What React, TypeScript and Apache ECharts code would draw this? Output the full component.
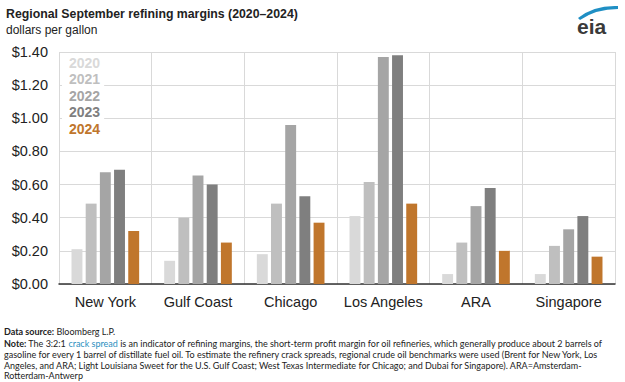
import React, { useEffect, useRef } from "react";
import * as echarts from "echarts";

const categories = ["New York", "Gulf Coast", "Chicago", "Los Angeles", "ARA", "Singapore"];
const years = ["2020", "2021", "2022", "2023", "2024"];
const v2020 = [0.21, 0.14, 0.18, 0.41, 0.06, 0.06];
const v2021 = [0.485, 0.40, 0.485, 0.615, 0.25, 0.23];
const v2022 = [0.675, 0.655, 0.96, 1.37, 0.47, 0.33];
const v2023 = [0.69, 0.60, 0.53, 1.38, 0.58, 0.41];
const v2024 = [0.32, 0.25, 0.37, 0.485, 0.20, 0.165];
const seriesValues = [v2020, v2021, v2022, v2023, v2024];
const colors = ["#d9d9d9", "#bfbfbf", "#a5a5a5", "#7f7f7f", "#c0762c"];
const yTicks = [0, 0.2, 0.4, 0.6, 0.8, 1.0, 1.2, 1.4];

const noteLines = [
  "{b|Note:} The 3:2:1 {l|crack spread} is an indicator of refining margins, the short-term profit margin for oil refineries, which generally produce about 2 barrels of",
  "gasoline for every 1 barrel of distillate fuel oil. To estimate the refinery crack spreads, regional crude oil benchmarks were used (Brent for New York, Los",
  "Angeles, and ARA; Light Louisiana Sweet for the U.S. Gulf Coast; West Texas Intermediate for Chicago; and Dubai for Singapore). ARA=Amsterdam-",
  "Rotterdam-Antwerp",
];

echarts.graphic.registerShape(
  "eiaSwoosh",
  echarts.graphic.extendPath("M0 14 Q16 1 40 2 L40 5 Q18 5 2 16 Z", {})
);

export default function App() {
  const ref = useRef<HTMLDivElement>(null);
  useEffect(() => {
    document.body.style.margin = "0";
    if (!ref.current) return;
    const chart = echarts.init(ref.current, undefined, { renderer: "svg" });
    const footFont = "Lato, 'Open Sans', sans-serif";
    const arial = "Arial, 'Liberation Sans', sans-serif";
    chart.setOption({
      animation: false,
      backgroundColor: "#ffffff",
      grid: { left: 59, right: 10, top: 52, bottom: 98, containLabel: false },
      legend: {
        orient: "vertical",
        left: 62,
        top: 55,
        icon: "none",
        itemWidth: 0,
        itemHeight: 10,
        itemGap: 2.4,
        padding: [1, 4, 1, 2],
        backgroundColor: "#ffffff",
        selectedMode: false,
        data: years.map((y, i) => ({
          name: y,
          textStyle: { color: colors[i], fontWeight: "bold", fontSize: 14, fontFamily: arial },
        })),
      },
      xAxis: {
        type: "category",
        data: categories,
        axisLine: { lineStyle: { color: "#333333", width: 1.5 } },
        axisTick: { show: false },
        splitLine: { show: true, lineStyle: { color: "#d9d9d9", width: 1 } },
        axisLabel: { color: "#222222", fontSize: 14.5, margin: 10, fontFamily: arial, interval: 0 },
      },
      yAxis: {
        type: "value",
        min: 0,
        max: 1.4,
        interval: 0.2,
        axisLine: { show: false },
        axisTick: { show: false },
        splitLine: { lineStyle: { color: "#d9d9d9", width: 1 } },
        axisLabel: {
          color: "#222222",
          fontSize: 14.5,
          margin: 11,
          fontFamily: arial,
          formatter: (v: number) => (yTicks.some((t) => Math.abs(t - v) < 1e-6) ? "$" + v.toFixed(2) : ""),
        },
      },
      series: years.map((y, i) => ({
        name: y,
        type: "bar",
        data: seriesValues[i],
        itemStyle: { color: colors[i] },
        barGap: "30%",
        barCategoryGap: "27%",
        z: 3,
      })),
      graphic: [
        {
          type: "text",
          left: 6,
          top: 8,
          style: {
            text: "Regional September refining margins (2020–2024)",
            font: `bold 12.3px ${arial}`,
            fill: "#222222",
          },
        },
        {
          type: "text",
          left: 6,
          top: 24,
          style: {
            text: "dollars per gallon",
            font: `12px ${arial}`,
            fill: "#222222",
          },
        },
        {
          type: "eiaSwoosh",
          x: 578,
          y: 4,
          scaleX: 1,
          scaleY: 1,
          style: { fill: "#1f8fc4" },
        },
        {
          type: "text",
          left: 577,
          top: 16,
          style: {
            text: "eia",
            font: `bold 21px ${arial}`,
            fill: "#3a3a3a",
          },
        },
        {
          type: "text",
          left: 4,
          top: 327,
          style: {
            text: "{b|Data source:} Bloomberg L.P.",
            rich: {
              b: { fontWeight: "bold", fontSize: 9, fontFamily: footFont, fill: "#222222" },
            },
            font: `9px ${footFont}`,
            fill: "#222222",
          },
        },
        {
          type: "text",
          left: 4,
          top: 338,
          style: {
            text: noteLines.join("\n"),
            lineHeight: 10.8,
            rich: {
              b: { fontWeight: "bold", fontSize: 9, fontFamily: footFont, fill: "#222222", lineHeight: 10.8 },
              l: { fontSize: 9, fontFamily: footFont, fill: "#2b8fc0", lineHeight: 10.8 },
            },
            font: `9px ${footFont}`,
            fill: "#222222",
          },
        },
      ],
    });
    return () => chart.dispose();
  }, []);
  return <div ref={ref} style={{ width: 625, height: 382 }} />;
}
